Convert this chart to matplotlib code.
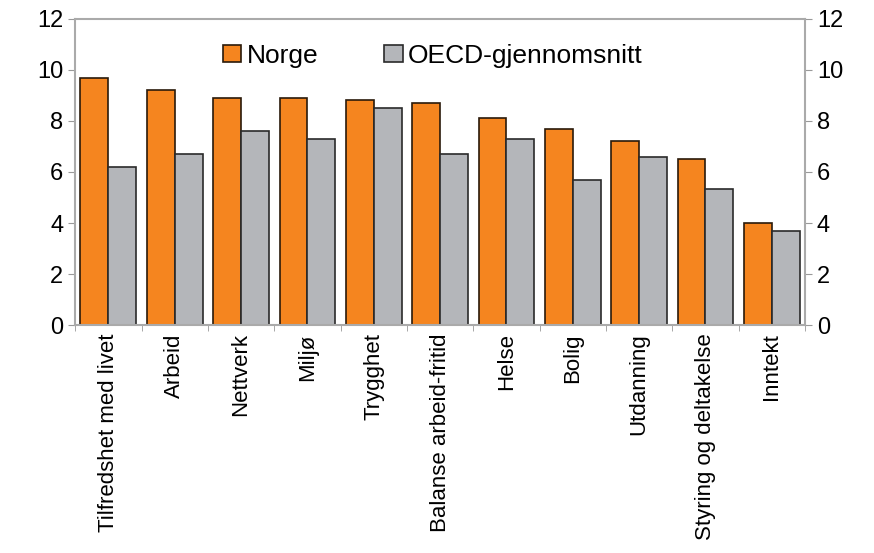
import numpy as np
import matplotlib.pyplot as plt

plt.rcParams['font.family'] = ['Liberation Sans', 'DejaVu Sans']

categories = ["Tilfredshet med livet", "Arbeid", "Nettverk", "Miljø", "Trygghet",
              "Balanse arbeid-fritid", "Helse", "Bolig", "Utdanning",
              "Styring og deltakelse", "Inntekt"]
norge = [9.7, 9.2, 8.9, 8.9, 8.8, 8.7, 8.1, 7.7, 7.2, 6.5, 4.0]
oecd = [6.2, 6.7, 7.6, 7.3, 8.5, 6.7, 7.3, 5.7, 6.6, 5.35, 3.7]

fig = plt.figure(figsize=(8.74, 5.53), dpi=100)
ax = fig.add_axes([0.086, 0.412, 0.835, 0.554])

x = np.arange(len(categories))
w = 0.42
ax.bar(x - w / 2, norge, w, color="#F5851F", edgecolor="#2a1a0a", linewidth=1.2, label="Norge")
ax.bar(x + w / 2, oecd, w, color="#B4B6BA", edgecolor="#2a2a2a", linewidth=1.2, label="OECD-gjennomsnitt")

ax.set_xlim(-0.5, len(categories) - 0.5)
ax.set_ylim(0, 12)
ax.set_yticks(np.arange(0, 13, 2))
ax.set_xticks(x)
ax.set_xticklabels(categories, rotation=90, fontsize=16)
ax.set_xticks(np.arange(-0.5, len(categories), 1), minor=True)
ax.tick_params(axis="x", which="major", length=0, pad=6)
ax.tick_params(axis="x", which="minor", length=4, color="#999999")
ax.tick_params(axis="y", labelsize=17, length=5, color="#999999", right=True, labelright=True)

for s in ax.spines.values():
    s.set_color("#aaaaaa")
    s.set_linewidth(1.5)

ax.legend(loc="upper center", bbox_to_anchor=(0.49, 0.995), ncol=2, frameon=False,
          fontsize=19, handlelength=0.7, handleheight=0.6, handletextpad=0.2,
          columnspacing=2.5)

fig.savefig("out.png", dpi=100)
